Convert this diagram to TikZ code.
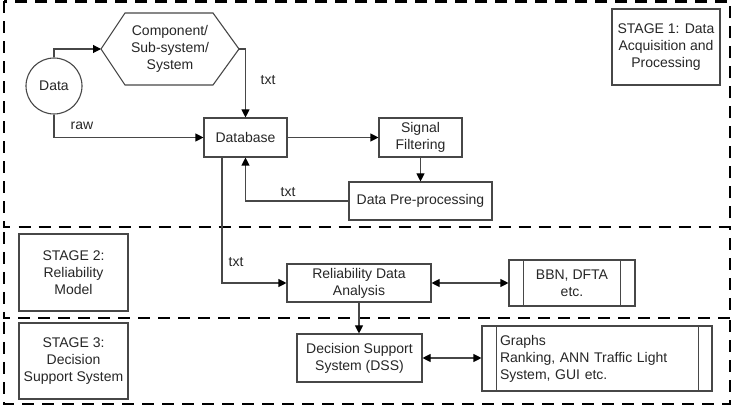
\documentclass[tikz,border=0pt]{standalone}
\usepackage{fontspec}
\setmainfont{Liberation Sans}
\usetikzlibrary{arrows.meta,shapes.geometric}
\begin{document}
\begin{tikzpicture}[x=1pt,y=-1pt,
  every node/.style={font=\fontsize{14}{17}\selectfont, text=black!85},
  box/.style={draw=black!72, line width=1.1pt, align=center, inner sep=0pt},
  conn/.style={draw=black!72, line width=1.1pt},
  arr/.style={conn, -{Triangle[length=8pt,width=8pt,color=black]}},
  darr/.style={conn, {Triangle[length=8pt,width=8pt,color=black]}-{Triangle[length=8pt,width=8pt,color=black]}},
  stagebox/.style={draw=black, line width=2.7pt, dash pattern=on 12pt off 8pt},
  lbl/.style={inner sep=0pt}]
\useasboundingbox (0,0) rectangle (737,406);

% stage frames
\draw[stagebox] (4,1.5) rectangle (730,227);
\draw[stagebox] (4,232) -- (4,318) -- (730,318) -- (730,228);
\draw[stagebox] (4,322) -- (4,404) -- (730,404) -- (730,320);

% stage labels
\node[box, minimum width=108pt, minimum height=76pt] (s1) at (666,47) {STAGE 1: Data\\Acquisition and\\Processing};
\node[box, minimum width=109pt, minimum height=77pt] (s2) at (73.5,272.5) {STAGE 2:\\Reliability\\Model};
\node[box, minimum width=109pt, minimum height=76pt] (s3) at (73.5,361) {STAGE 3:\\Decision\\Support System};

% data circle
\node[circle, draw=black!72, line width=1.1pt, minimum size=56pt, inner sep=0pt] (data) at (54,86) {Data};

% hexagon
\coordinate (hexL) at (101,49);
\coordinate (hexR) at (239,49);
\draw[conn, line join=miter] (hexL) -- (125,13) -- (213,13) -- (hexR) -- (213,85) -- (125,85) -- cycle;
\node[align=center, inner sep=0pt] (hex) at (170,49) {Component/\\Sub-system/\\System};

% boxes
\node[box, minimum width=83pt, minimum height=39pt] (db) at (245.5,137.5) {Database};
\node[box, minimum width=83pt, minimum height=39pt] (sf) at (420.5,137.5) {Signal\\Filtering};
\node[box, minimum width=143pt, minimum height=38pt] (dpp) at (420.5,201) {Data Pre-processing};
\node[box, minimum width=144pt, minimum height=38pt] (rda) at (359,283) {Reliability Data\\Analysis};
\node[box, minimum width=126pt, minimum height=46pt] (bbn) at (572,283) {BBN, DFTA\\etc.};
\node[box, minimum width=125pt, minimum height=48pt] (dss) at (359.5,358) {Decision Support\\System (DSS)};
\node[box, align=left, text width=194pt, inner xsep=18pt, minimum height=65pt] (gr) at (597,358.5) {Graphs\\Ranking, ANN Traffic Light\\System, GUI etc.};

% inner bars
\draw[conn] ([xshift=15pt]bbn.north west) -- ([xshift=15pt]bbn.south west);
\draw[conn] ([xshift=-15pt]bbn.north east) -- ([xshift=-15pt]bbn.south east);
\draw[conn] ([xshift=15pt]gr.north west) -- ([xshift=15pt]gr.south west);
\draw[conn] ([xshift=-14pt]gr.north east) -- ([xshift=-14pt]gr.south east);

% connectors
\draw[arr] (data.north) |- (hexL);
\draw[arr] (hexR) -| (db.north);
\draw[arr] (data.south) |- (db.west);
\draw[arr] (db.east) -- (sf.west);
\draw[arr] (sf.south) -- (dpp.north);
\draw[arr] (dpp.west) -| (db.south);
\draw[arr] ([xshift=-23.5pt]db.south) |- (rda.west);
\draw[darr] (rda.east) -- (bbn.west);
\draw[arr] (rda.south) -- (rda.south |- dss.north);
\draw[darr] (dss.east) -- (dss.east -| gr.west);

% labels
\node[lbl] (t1) at (268,80) {txt};
\node[lbl] (t2) at (82,126) {raw};
\node[lbl] (t3) at (288,192) {txt};
\node[lbl] (t4) at (236,262) {txt};
\end{tikzpicture}
\end{document}
